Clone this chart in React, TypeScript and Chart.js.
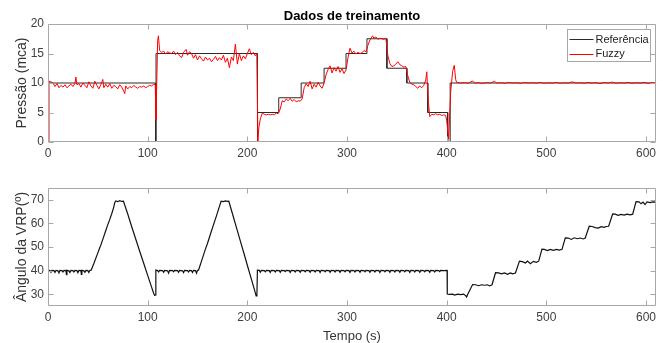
import { useEffect, useRef } from "react";
import { Chart, registerables } from "chart.js";

Chart.register(...registerables);

const FONT = "'Liberation Sans', Arial, Helvetica, sans-serif";

// ---------- Data ----------
const xTicks = [0, 100, 200, 300, 400, 500, 600];
const yTicksPressao = [0, 5, 10, 15, 20];
const yTicksAngulo = [30, 40, 50, 60, 70];

const titulo = "Dados de treinamento";
const yTituloPressao = "Pressão (mca)";
const yTituloAngulo = "Ângulo da VRP(º)";
const xTitulo = "Tempo (s)";
const legendaRef = "Referência";
const legendaFuzzy = "Fuzzy";

// Reference pressure (step signal) [t, value]
const referencia: [number, number][] = [
  [0, 10], [108, 10], [108, 0], [108.4, 0], [108.4, 15], [210, 15], [210, 0], [210.3, 0], [210.3, 5],
  [231.5, 5], [231.5, 7.5], [254, 7.5], [254, 10], [277, 10], [277, 12.5], [299, 12.5], [299, 15],
  [320, 15], [320, 17.5], [340, 17.5], [340, 12.5], [360, 12.5], [360, 10], [381, 10], [381, 5],
  [401, 5], [401, 0], [403.5, 0], [403.5, 10], [610, 10],
];

// Fuzzy controller pressure [t, value]
const fuzzy: [number, number][] = [
  [0, 0], [1, 10.3], [3, 10.2], [5, 10.0], [7, 9.4], [9, 9.9], [11, 9.2], [13, 9.6], [15, 9.3], [17, 9.7],
  [19, 9.2], [21, 9.5], [23, 9.8], [25, 9.4], [27, 9.9], [28, 11.0], [29, 9.7], [31, 9.9], [33, 9.3], [35, 10.0],
  [37, 9.6], [39, 9.2], [41, 10.2], [43, 9.5], [45, 9.1], [47, 10.3], [49, 9.6], [51, 9.0], [53, 9.7], [55, 10.6],
  [56, 9.2], [58, 9.8], [60, 9.3], [62, 9.9], [64, 9.1], [66, 9.6], [68, 9.4], [70, 9.0], [72, 9.7], [74, 9.3],
  [76, 8.6], [77, 8.2], [78, 9.5], [80, 9.0], [82, 9.4], [84, 9.2], [86, 9.6], [88, 9.3], [90, 9.1], [92, 9.4],
  [94, 9.3], [96, 9.5], [98, 9.2], [100, 9.4], [102, 9.6], [104, 9.5], [106, 9.8], [107.6, 9.7], [108.3, 3.7],
  [110, 17.2], [110.8, 18.0], [112, 15.5], [114, 15.2], [116, 15.4], [118, 14.9], [120, 15.3], [122, 15.1],
  [124, 15.0], [126, 15.4], [128, 14.8], [130, 15.2], [132, 14.6], [134, 14.3], [136, 15.2], [138.6, 15.7],
  [140, 14.7], [142, 15.3], [144, 15.0], [146, 14.2], [148, 14.8], [150, 13.9], [152, 14.6], [154, 14.1],
  [156, 13.7], [158, 14.4], [160, 13.9], [162, 14.2], [164, 13.6], [166, 14.0], [168, 14.5], [170, 13.8],
  [172, 14.3], [174, 13.9], [176, 14.7], [178, 13.5], [180, 14.2], [182, 12.6], [184, 14.4], [186, 13.8],
  [188, 16.6], [190, 13.2], [192, 15.0], [194, 13.8], [196, 14.6], [198, 14.1], [200, 15.0], [202, 15.8],
  [204, 14.8], [206, 15.2], [208, 14.6], [209.6, 15.0], [210.6, 0.1], [211.5, 2.4], [213, 3.9], [215, 4.9],
  [217, 4.7], [219, 4.6], [221, 4.7], [223, 4.6], [225, 4.7], [227, 4.6], [229, 4.9], [231, 4.8],
  [233, 5.6], [235, 7.0], [237, 6.8], [239, 7.3], [241, 7.0], [243, 7.4], [245, 6.9], [247, 7.2], [249, 6.8],
  [251, 7.0], [253, 6.9], [255, 7.3], [257, 9.2], [259, 9.9], [261, 9.4], [263, 10.3], [265, 9.0], [267, 9.8],
  [269, 9.3], [271, 10.1], [273, 9.5], [275, 9.1], [277, 10.0], [279, 11.4], [281, 12.3], [283, 12.9],
  [285, 11.7], [287, 12.6], [289, 12.0], [291, 12.8], [293, 11.8], [295, 12.4], [297, 11.6], [299, 12.2],
  [301, 14.3], [303, 15.9], [305, 15.1], [307, 15.4], [309, 14.9], [311, 15.2], [313, 15.0], [315, 15.1],
  [317, 15.5], [319, 15.3], [321, 16.4], [323, 17.3], [325.6, 18.0], [327, 17.6], [329, 17.8], [331, 17.4],
  [333, 17.6], [335, 17.5], [337, 17.4], [339, 17.6], [341, 14.6], [343, 13.3], [345, 12.8], [347, 12.9],
  [349, 13.2], [351, 13.6], [353, 13.1], [355, 12.9], [357, 12.7], [359, 12.8], [361, 11.2], [363, 10.1],
  [365, 9.8], [367, 9.7], [369, 9.4], [371, 9.1], [373, 9.5], [375, 9.2], [377, 9.6], [379, 10.5],
  [380, 11.9], [381.5, 7.0], [383, 4.3], [385, 4.7], [387, 4.6], [389, 4.8], [391, 4.6], [393, 4.7],
  [395, 4.5], [397, 4.6], [399, 4.5], [400, 3.6], [402, 0.5], [404, 8.5], [406, 12.0], [407.6, 13.0],
  [409, 10.6], [410, 10.1], [414, 10.0], [418, 10.05], [422, 10.0], [426, 10.35], [428, 10.0], [432, 10.05],
  [436, 9.95], [440, 10.05], [444, 10.0], [448, 10.3], [450, 10.0], [454, 10.05], [458, 9.95], [462, 10.1],
  [466, 10.0], [470, 10.05], [474, 9.95], [478, 10.1], [482, 10.0], [486, 10.05], [490, 10.0], [494, 10.1],
  [498, 9.95], [502, 10.05], [506, 10.0], [510, 10.1], [514, 9.95], [518, 10.05], [522, 10.0], [526, 10.2],
  [530, 10.0], [534, 10.05], [538, 9.95], [542, 10.1], [546, 10.0], [550, 10.05], [554, 9.9], [558, 10.1],
  [562, 10.0], [566, 10.15], [570, 9.95], [574, 10.05], [578, 10.0], [582, 10.1], [586, 9.95], [590, 10.05],
  [594, 10.0], [598, 10.1], [602, 9.95], [606, 10.05], [610, 10.0],
];

// VRP valve angle [t, degrees]
const angulo: [number, number][] = [
  [0, 40.2], [2, 40.0], [3, 39.3], [4, 40.1], [6, 40.0], [7, 39.2], [8, 40.1], [10, 39.9], [11, 39.0],
  [12, 40.1], [14, 40.0], [15, 39.4], [16, 40.1], [18, 40.0], [18.5, 38.3], [19, 40.1], [21, 39.9], [22, 39.2],
  [23, 40.1], [25, 40.0], [26, 39.4], [27, 40.1], [29, 40.0], [30, 39.1], [31, 40.1], [33, 40.0], [33.5, 38.4],
  [34, 40.1], [36, 39.9], [37, 39.3], [38, 40.1], [40, 40.0], [41, 39.2], [42, 40.1], [43.3, 40.2],
  [46, 43.0], [50, 47.5], [52, 49.8], [53, 50.8], [56, 54.5], [58, 57.0], [60, 59.5], [62, 61.7], [64, 64.2],
  [66, 66.9], [67, 68.9], [68, 69.5], [70, 69.2], [72, 69.6], [74, 69.3], [75.7, 69.4],
  [80, 64.0], [84, 58.6], [88, 53.4], [92, 48.2], [96, 43.1], [100, 38.0], [104, 32.9], [106, 30.4],
  [107, 29.5], [107.8, 29.7], [108.2, 40.2], [110, 40.0], [111, 39.4], [112, 40.1], [115, 40.0], [116, 39.3],
  [117, 40.1], [120, 39.9], [121, 38.9], [122, 40.1], [125, 40.0], [126, 39.5], [127, 40.1], [130, 40.0],
  [131, 39.3], [132, 40.1], [135, 39.9], [136, 39.1], [137, 40.1], [140, 40.0], [141, 39.4], [142, 40.1],
  [144, 40.0], [145, 39.2], [146, 40.1], [148, 40.0], [149, 38.9], [150, 40.1], [151, 40.2],
  [155, 45.3], [158, 49.2], [160, 51.5], [163, 55.5], [166, 59.4], [169, 63.2], [172, 67.2], [173.7, 69.4],
  [176, 69.2], [178, 69.5], [180, 69.3], [181.4, 69.4],
  [185, 64.2], [189, 58.3], [193, 52.5], [197, 46.7], [201, 40.8], [205, 35.0], [208, 30.6], [208.8, 29.3],
  [209.6, 29.8], [210.1, 40.2],
  [212, 40.1], [213, 39.3], [214, 40.1], [217, 40.0], [218, 39.5], [219, 40.1], [222, 40.0], [223, 39.2], [224, 40.1],
  [227, 40.0], [228, 39.4], [229, 40.1], [232, 40.0], [233, 39.3], [234, 40.1], [237, 40.0], [238, 39.6], [239, 40.1],
  [242, 40.0], [243, 39.2], [244, 40.1], [247, 40.0], [248, 39.4], [249, 40.1], [252, 40.0], [253, 39.3], [254, 40.1],
  [257, 40.0], [258, 39.5], [259, 40.1], [262, 40.0], [263, 39.3], [264, 40.1], [267, 40.0], [268, 39.4], [269, 40.1],
  [272, 40.0], [273, 39.2], [274, 40.1], [277, 40.0], [278, 39.5], [279, 40.1], [282, 40.0], [283, 39.3], [284, 40.1],
  [287, 40.0], [288, 39.4], [289, 40.1], [292, 40.0], [293, 39.3], [294, 40.1], [297, 40.0], [298, 39.5], [299, 40.1],
  [302, 40.0], [303, 39.2], [304, 40.1], [307, 40.0], [308, 39.4], [309, 40.1], [312, 40.0], [313, 39.3], [314, 40.1],
  [317, 40.0], [318, 39.5], [319, 40.1], [322, 40.0], [323, 39.3], [324, 40.1], [327, 40.0], [328, 39.4], [329, 40.1],
  [332, 40.0], [333, 39.2], [334, 40.1], [337, 40.0], [338, 39.5], [339, 40.1], [342, 40.0], [343, 39.3], [344, 40.1],
  [347, 40.0], [348, 39.4], [349, 40.1], [352, 40.0], [353, 39.3], [354, 40.1], [357, 40.0], [358, 39.5], [359, 40.1],
  [362, 40.0], [363, 39.2], [364, 40.1], [367, 40.0], [368, 39.4], [369, 40.1], [372, 40.0], [373, 39.3], [374, 40.1],
  [377, 40.0], [378, 39.5], [379, 40.1], [382, 40.0], [383, 39.3], [384, 40.1], [387, 40.0], [388, 39.4], [389, 40.1],
  [392, 40.0], [393, 39.6], [394, 40.1], [397, 40.0], [400.4, 40.1],
  [400.6, 30.1], [403, 29.9], [406, 30.0], [408, 29.6], [411, 30.0], [414, 29.8], [417, 30.0], [419, 29.4],
  [420, 28.8], [421, 29.9], [426, 34.1], [429, 34.0], [432, 33.6], [435, 34.0], [438, 33.8], [441, 34.0],
  [443, 33.5], [445.5, 34.0], [449, 39.1], [452, 39.0], [455, 38.6], [458, 39.0], [461, 38.4], [464, 39.0],
  [466, 38.6], [469, 39.0], [473, 44.0], [476, 43.8], [479, 43.2], [481, 44.0], [484, 42.9], [487, 43.9],
  [490, 43.5], [492.3, 44.0], [495.6, 49.1], [498, 49.0], [501, 48.5], [504, 49.0], [507, 48.6], [510, 49.0],
  [513, 48.7], [515.7, 49.0], [519, 53.9], [522, 53.8], [525, 53.2], [528, 53.9], [531, 53.5], [534, 53.8],
  [537, 53.4], [539, 53.8], [543, 58.8], [546, 58.7], [549, 58.2], [552, 58.0], [555, 58.6], [558, 58.3],
  [560, 58.7], [562.5, 58.8], [566.5, 64.0], [569, 63.9], [572, 63.4], [575, 63.8], [578, 63.5], [581, 63.9],
  [584, 63.6], [586.6, 63.9], [590, 69.2], [593, 69.1], [595, 68.3], [597, 69.0], [599, 68.0], [601, 69.1],
  [604, 68.8], [607, 69.1], [610, 69.0],
];

// ---------- Styling helpers ----------
const BOX = "#a8a8a8";
const TICKTXT = "#404040";
const REF_COLOR = "#2a2a2a";
const FUZZY_COLOR = "#ff0000";

type FrameOpts = {
  title?: string;
  yTitle: string;
  xTitle?: string;
  legend?: boolean;
};

function framePlugin(o: FrameOpts) {
  return {
    id: "matlabFrame",
    afterDraw(chart: any) {
      const { ctx, chartArea: a, scales } = chart;
      const L = Math.floor(a.left) + 0.5;
      const R = Math.ceil(a.right) - 0.5;
      const T = Math.floor(a.top) + 0.5;
      const B = Math.ceil(a.bottom) - 0.5;
      ctx.save();
      ctx.strokeStyle = BOX;
      ctx.lineWidth = 1;
      ctx.beginPath();
      ctx.rect(L, T, R - L, B - T);
      ctx.stroke();
      const tl = 5;
      ctx.beginPath();
      for (const t of scales.x.ticks) {
        const px = Math.round(scales.x.getPixelForValue(t.value)) + 0.5;
        ctx.moveTo(px, B);
        ctx.lineTo(px, B - tl);
        ctx.moveTo(px, T);
        ctx.lineTo(px, T + tl);
      }
      for (const t of scales.y.ticks) {
        const py = Math.round(scales.y.getPixelForValue(t.value)) + 0.5;
        ctx.moveTo(L, py);
        ctx.lineTo(L + tl, py);
        ctx.moveTo(R, py);
        ctx.lineTo(R - tl, py);
      }
      ctx.stroke();

      // y title
      ctx.fillStyle = "#333";
      ctx.font = `14px ${FONT}`;
      ctx.textAlign = "center";
      ctx.textBaseline = "middle";
      ctx.save();
      ctx.translate(22, (a.top + a.bottom) / 2);
      ctx.rotate(-Math.PI / 2);
      ctx.fillText(o.yTitle, 0, 0);
      ctx.restore();

      if (o.title) {
        ctx.fillStyle = "#000";
        ctx.font = `bold 13px ${FONT}`;
        ctx.textAlign = "center";
        ctx.textBaseline = "alphabetic";
        ctx.fillText(o.title, (a.left + a.right) / 2, 20);
      }
      if (o.xTitle) {
        ctx.fillStyle = "#333";
        ctx.font = `13px ${FONT}`;
        ctx.textAlign = "center";
        ctx.textBaseline = "alphabetic";
        ctx.fillText(o.xTitle, (a.left + a.right) / 2, 170);
      }
      if (o.legend) {
        const w = 83;
        const h = 32;
        const lx = Math.round(a.right) - 6 - w + 0.5;
        const ly = Math.round(a.top) + 5 + 0.5;
        ctx.fillStyle = "#fff";
        ctx.fillRect(lx, ly, w, h);
        ctx.strokeStyle = BOX;
        ctx.strokeRect(lx, ly, w, h);
        const rows = [
          { label: legendaRef, color: REF_COLOR, y: ly + 9.5 },
          { label: legendaFuzzy, color: FUZZY_COLOR, y: ly + 24 },
        ];
        ctx.font = `11px ${FONT}`;
        ctx.textAlign = "left";
        ctx.textBaseline = "middle";
        for (const r of rows) {
          ctx.strokeStyle = r.color;
          ctx.lineWidth = 1;
          ctx.beginPath();
          ctx.moveTo(lx + 2, Math.round(r.y) + 0.5);
          ctx.lineTo(lx + 26, Math.round(r.y) + 0.5);
          ctx.stroke();
          ctx.fillStyle = "#222";
          ctx.fillText(r.label, lx + 28, r.y + 0.5);
        }
      }
      ctx.restore();
    },
  };
}

function axes(yMin: number, yMax: number, yTicks: number[], xHeight: number) {
  const tickFont = { family: FONT, size: 12 };
  return {
    x: {
      type: "linear" as const,
      min: 0,
      max: 610,
      grid: { display: false, drawTicks: false },
      border: { display: false },
      afterBuildTicks: (s: any) => {
        s.ticks = xTicks.map((v) => ({ value: v }));
      },
      afterFit: (s: any) => {
        s.height = xHeight;
      },
      ticks: {
        font: tickFont,
        color: TICKTXT,
        padding: 4,
        maxRotation: 0,
        autoSkip: false,
        includeBounds: false,
        callback: (v: any) => String(v),
      },
    },
    y: {
      type: "linear" as const,
      min: yMin,
      max: yMax,
      grid: { display: false, drawTicks: false },
      border: { display: false },
      afterBuildTicks: (s: any) => {
        s.ticks = yTicks.map((v) => ({ value: v }));
      },
      afterFit: (s: any) => {
        s.width = 48;
      },
      ticks: {
        font: tickFont,
        color: TICKTXT,
        padding: 4,
        autoSkip: false,
        includeBounds: false,
        callback: (v: any) => String(v),
      },
    },
  };
}

const toXY = (arr: [number, number][]) => arr.map(([x, y]) => ({ x, y }));

export default function App() {
  const topRef = useRef<HTMLCanvasElement | null>(null);
  const botRef = useRef<HTMLCanvasElement | null>(null);

  useEffect(() => {
    const c1 = new Chart(topRef.current as HTMLCanvasElement, {
      type: "line",
      data: {
        datasets: [
          {
            label: legendaFuzzy,
            data: toXY(fuzzy),
            borderColor: FUZZY_COLOR,
            borderWidth: 1,
            pointRadius: 0,
            tension: 0,
          },
          {
            label: legendaRef,
            data: toXY(referencia),
            borderColor: REF_COLOR,
            borderWidth: 1,
            pointRadius: 0,
            tension: 0,
          },
        ],
      },
      options: {
        responsive: false,
        animation: false,
        devicePixelRatio: 1,
        layout: { padding: { left: 0, right: 14, top: 24, bottom: 0 } },
        plugins: { legend: { display: false }, tooltip: { enabled: false }, title: { display: false } },
        scales: axes(0, 20, yTicksPressao, 28) as any,
      },
      plugins: [framePlugin({ title: titulo, yTitle: yTituloPressao, legend: true })],
    });

    const c2 = new Chart(botRef.current as HTMLCanvasElement, {
      type: "line",
      data: {
        datasets: [
          {
            label: yTituloAngulo,
            data: toXY(angulo),
            borderColor: "#111",
            borderWidth: 1.2,
            pointRadius: 0,
            tension: 0,
          },
        ],
      },
      options: {
        responsive: false,
        animation: false,
        devicePixelRatio: 1,
        layout: { padding: { left: 0, right: 14, top: 18, bottom: 0 } },
        plugins: { legend: { display: false }, tooltip: { enabled: false }, title: { display: false } },
        scales: axes(25, 75, yTicksAngulo, 37) as any,
      },
      plugins: [framePlugin({ yTitle: yTituloAngulo, xTitle: xTitulo })],
    });

    return () => {
      c1.destroy();
      c2.destroy();
    };
  }, []);

  return (
    <div style={{ position: "absolute", left: 0, top: 0, width: 670, height: 343, background: "#fff" }}>
      <canvas
        ref={topRef}
        width={670}
        height={170}
        style={{ position: "absolute", left: 0, top: 0, width: 670, height: 170, display: "block" }}
      />
      <canvas
        ref={botRef}
        width={670}
        height={173}
        style={{ position: "absolute", left: 0, top: 170, width: 670, height: 173, display: "block" }}
      />
    </div>
  );
}
